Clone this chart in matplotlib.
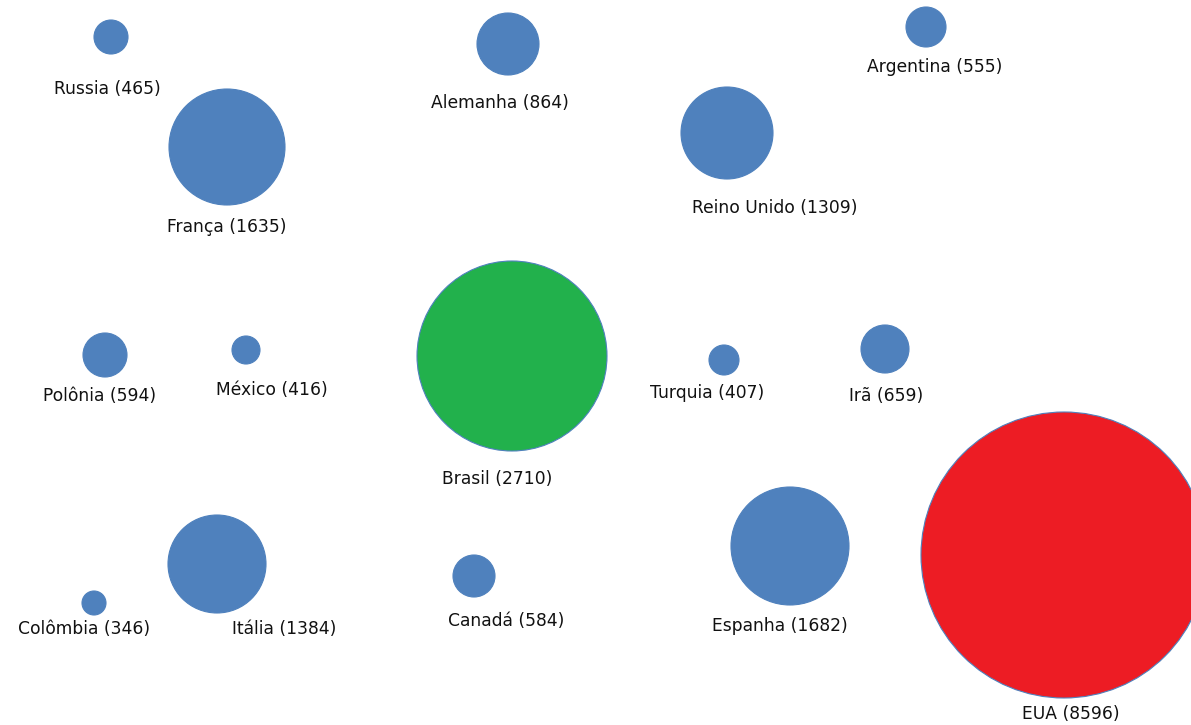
import matplotlib
matplotlib.use("Agg")
import matplotlib.pyplot as plt
from matplotlib.patches import Circle

countries = ["Russia", "Alemanha", "Argentina", "França", "Reino Unido",
             "Polônia", "México", "Brasil", "Turquia", "Irã",
             "Colômbia", "Itália", "Canadá", "Espanha", "EUA"]
values = [465, 864, 555, 1635, 1309,
          594, 416, 2710, 407, 659,
          346, 1384, 584, 1682, 8596]
# bubble centres and radii (chart units)
bx = [111, 508, 926, 227, 727, 105, 246, 512, 724, 885, 94, 217, 474, 790, 1064]
by = [37, 44, 27, 147, 133, 355, 350, 356, 360, 349, 603, 564, 576, 546, 555]
br = [17, 31, 20, 58, 46, 22, 14, 95, 15, 24, 12, 49, 21, 59, 143]
# label anchor positions
lx = [107, 500, 935, 227, 775, 100, 272, 497, 707, 886, 84, 284, 506, 780, 1071]
ly = [89, 103, 67, 227, 208, 396, 390, 479, 393, 396, 629, 629, 621, 626, 714]

BLUE = "#4F81BD"
colors = {"Brasil": "#22B14C", "EUA": "#ED1C24"}

fig = plt.figure(figsize=(11.91, 7.25), dpi=100)
ax = fig.add_axes([0, 0, 1, 1])
ax.set_xlim(0, 1191)
ax.set_ylim(725, 0)
ax.axis("off")

for c, v, x, y, r, tx, ty in zip(countries, values, bx, by, br, lx, ly):
    fc = colors.get(c, BLUE)
    ax.add_patch(Circle((x, y), r, facecolor=fc, edgecolor=BLUE, linewidth=0.8))
    ax.text(tx, ty, f"{c} ({v})", ha="center", va="center",
            fontsize=12.3, family="DejaVu Sans", color="#111111")

fig.savefig("out.png", dpi=100)
